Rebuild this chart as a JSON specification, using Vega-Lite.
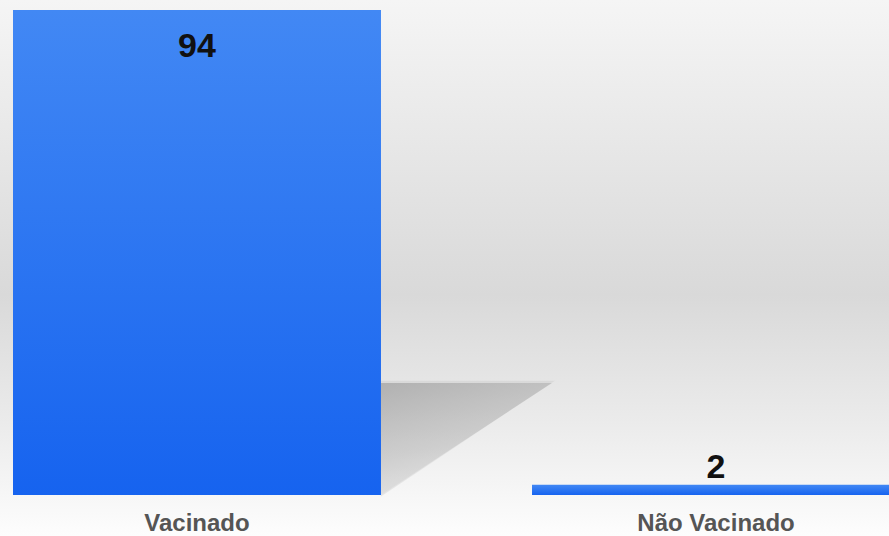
{
  "$schema": "https://vega.github.io/schema/vega-lite/v6.json",
  "width": 889,
  "height": 536,
  "autosize": {"type": "none"},
  "padding": 0,
  "background": "#f7f7f7",
  "config": {
    "view": {
      "stroke": null,
      "fill": {
        "gradient": "linear", "x1": 0, "y1": 0, "x2": 0, "y2": 1,
        "stops": [
          {"offset": 0, "color": "#f5f5f5"},
          {"offset": 0.55, "color": "#d9d9d9"},
          {"offset": 0.8, "color": "#ececec"},
          {"offset": 1, "color": "#fdfdfd"}
        ]
      }
    },
    "font": "Liberation Sans"
  },
  "data": {
    "values": [
      {"categoria": "Vacinado", "total": 94},
      {"categoria": "Não Vacinado", "total": 2}
    ]
  },
  "encoding": {
    "x": {
      "field": "categoria",
      "type": "nominal",
      "sort": null,
      "scale": {"range": [13, 900], "paddingInner": 0.291, "paddingOuter": 0},
      "axis": {
        "title": null,
        "domain": false,
        "ticks": false,
        "labelAngle": 0,
        "labelFontSize": 24,
        "labelFontWeight": "bold",
        "labelColor": "#555555",
        "labelPadding": 16,
        "labelBaseline": "top",
        "offset": -41
      }
    },
    "y": {
      "field": "total",
      "type": "quantitative",
      "scale": {"domain": [0, 94], "range": [495, 10], "nice": false, "zero": true},
      "axis": null
    }
  },
  "layer": [
    {
      "transform": [{"filter": "datum.total > 50"}],
      "mark": {
        "type": "point",
        "filled": true,
        "size": 504100,
        "shape": "M 0.518 -0.322 L 1.008 -0.322 L 0.518 0.004 Z",
        "opacity": 0.35,
        "fill": "#c4c4c4"
      },
      "encoding": {"y": {"datum": 0}}
    },
    {
      "transform": [{"filter": "datum.total > 50"}],
      "mark": {
        "type": "point",
        "filled": true,
        "size": 504100,
        "shape": "M 0.518 -0.3155 L 1 -0.3155 L 0.518 0 Z",
        "opacity": 1,
        "fill": {
          "gradient": "linear", "x1": 0, "y1": 0, "x2": 0.4, "y2": 1,
          "stops": [
            {"offset": 0, "color": "rgba(150,150,150,0.6)"},
            {"offset": 0.6, "color": "rgba(165,165,165,0.3)"},
            {"offset": 1, "color": "rgba(190,190,190,0.05)"}
          ]
        }
      },
      "encoding": {"y": {"datum": 0}}
    },
    {
      "mark": {
        "type": "bar",
        "clip": true,
        "fill": {
          "gradient": "linear", "x1": 0, "y1": 0, "x2": 0, "y2": 1,
          "stops": [
            {"offset": 0, "color": "#4288f4"},
            {"offset": 1, "color": "#1663ef"}
          ]
        }
      }
    },
    {
      "transform": [{"filter": "datum.total > 50"}],
      "mark": {
        "type": "text",
        "baseline": "alphabetic",
        "dy": 47,
        "fontSize": 34,
        "fontWeight": "bold",
        "color": "#111111"
      },
      "encoding": {"text": {"field": "total", "type": "quantitative"}}
    },
    {
      "transform": [{"filter": "datum.total <= 50"}],
      "mark": {
        "type": "text",
        "baseline": "alphabetic",
        "dy": -7,
        "fontSize": 34,
        "fontWeight": "bold",
        "color": "#111111"
      },
      "encoding": {"text": {"field": "total", "type": "quantitative"}}
    }
  ]
}
